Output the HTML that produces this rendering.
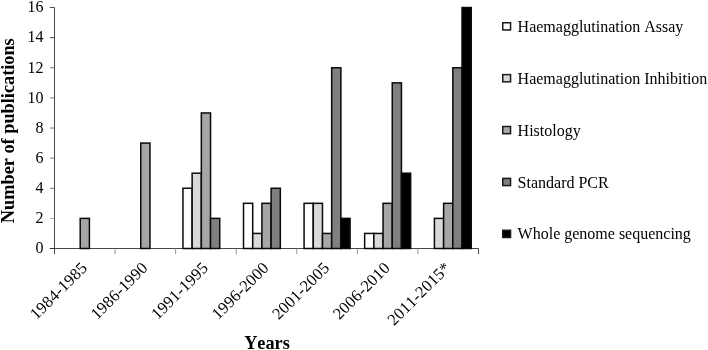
<!DOCTYPE html><html><head><meta charset="utf-8"><title>Chart</title><style>html,body{margin:0;padding:0;background:#fff}svg{display:block}text{font-kerning:none;font-family:"Liberation Serif","Times New Roman",serif;fill:#000}</style></head><body>
<svg width="708" height="350" viewBox="0 0 708 350">
<rect width="708" height="350" fill="#fff"/>
<g stroke="#333" stroke-width="0.9" fill="none">
<line x1="54.5" y1="7.54" x2="54.5" y2="248.50"/>
<line x1="49.9" y1="248.5" x2="478.49" y2="248.5"/>
<line x1="49.9" y1="248.50" x2="54.5" y2="248.50"/>
<line x1="49.9" y1="218.38" x2="54.5" y2="218.38" stroke="#9a9a9a"/>
<line x1="49.9" y1="188.26" x2="54.5" y2="188.26" stroke="#6e6e6e"/>
<line x1="49.9" y1="158.14" x2="54.5" y2="158.14" stroke="#6e6e6e"/>
<line x1="49.9" y1="128.02" x2="54.5" y2="128.02" stroke="#6e6e6e"/>
<line x1="49.9" y1="97.90" x2="54.5" y2="97.90" stroke="#6e6e6e"/>
<line x1="49.9" y1="67.78" x2="54.5" y2="67.78" stroke="#6e6e6e"/>
<line x1="49.9" y1="37.66" x2="54.5" y2="37.66"/>
<line x1="49.9" y1="7.54" x2="54.5" y2="7.54"/>
<line x1="54.50" y1="248.5" x2="54.50" y2="254.10"/>
<line x1="115.07" y1="248.5" x2="115.07" y2="254.10" stroke="#8a8a8a"/>
<line x1="175.64" y1="248.5" x2="175.64" y2="254.10" stroke="#8a8a8a"/>
<line x1="236.21" y1="248.5" x2="236.21" y2="254.10" stroke="#8a8a8a"/>
<line x1="296.78" y1="248.5" x2="296.78" y2="254.10" stroke="#8a8a8a"/>
<line x1="357.35" y1="248.5" x2="357.35" y2="254.10" stroke="#8a8a8a"/>
<line x1="417.92" y1="248.5" x2="417.92" y2="254.10" stroke="#8a8a8a"/>
<line x1="478.49" y1="248.5" x2="478.49" y2="254.10"/>
</g>
<g stroke="#0a0a0a" stroke-width="1.5">
<rect x="80.20" y="218.38" width="9.20" height="30.12" fill="#a6a6a6"/>
<rect x="140.77" y="143.08" width="9.20" height="105.42" fill="#a6a6a6"/>
<rect x="182.94" y="188.26" width="9.20" height="60.24" fill="#ffffff"/>
<rect x="192.14" y="173.20" width="9.20" height="75.30" fill="#d9d9d9"/>
<rect x="201.34" y="112.96" width="9.20" height="135.54" fill="#a6a6a6"/>
<rect x="210.54" y="218.38" width="9.20" height="30.12" fill="#7f7f7f"/>
<rect x="243.51" y="203.32" width="9.20" height="45.18" fill="#ffffff"/>
<rect x="252.71" y="233.44" width="9.20" height="15.06" fill="#d9d9d9"/>
<rect x="261.91" y="203.32" width="9.20" height="45.18" fill="#a6a6a6"/>
<rect x="271.11" y="188.26" width="9.20" height="60.24" fill="#7f7f7f"/>
<rect x="304.08" y="203.32" width="9.20" height="45.18" fill="#ffffff"/>
<rect x="313.28" y="203.32" width="9.20" height="45.18" fill="#d9d9d9"/>
<rect x="322.48" y="233.44" width="9.20" height="15.06" fill="#a6a6a6"/>
<rect x="331.68" y="67.78" width="9.20" height="180.72" fill="#7f7f7f"/>
<rect x="340.88" y="218.38" width="9.20" height="30.12" fill="#000000"/>
<rect x="364.65" y="233.44" width="9.20" height="15.06" fill="#ffffff"/>
<rect x="373.85" y="233.44" width="9.20" height="15.06" fill="#d9d9d9"/>
<rect x="383.05" y="203.32" width="9.20" height="45.18" fill="#a6a6a6"/>
<rect x="392.25" y="82.84" width="9.20" height="165.66" fill="#7f7f7f"/>
<rect x="401.45" y="173.20" width="9.20" height="75.30" fill="#000000"/>
<rect x="434.42" y="218.38" width="9.20" height="30.12" fill="#d9d9d9"/>
<rect x="443.62" y="203.32" width="9.20" height="45.18" fill="#a6a6a6"/>
<rect x="452.82" y="67.78" width="9.20" height="180.72" fill="#7f7f7f"/>
<rect x="462.02" y="7.54" width="9.20" height="240.96" fill="#000000"/>
</g>
<text x="43.5" y="253.25" font-size="16" text-anchor="end">0</text>
<text x="43.5" y="223.13" font-size="16" text-anchor="end">2</text>
<text x="43.5" y="193.01" font-size="16" text-anchor="end">4</text>
<text x="43.5" y="162.89" font-size="16" text-anchor="end">6</text>
<text x="43.5" y="132.77" font-size="16" text-anchor="end">8</text>
<text x="43.5" y="102.65" font-size="16" text-anchor="end">10</text>
<text x="43.5" y="72.53" font-size="16" text-anchor="end">12</text>
<text x="43.5" y="42.41" font-size="16" text-anchor="end">14</text>
<text x="43.5" y="12.29" font-size="16" text-anchor="end">16</text>
<text transform="translate(88.08,268.80) rotate(-45)" font-size="16.5" letter-spacing="0.15" text-anchor="end">1984-1985</text>
<text transform="translate(148.66,268.80) rotate(-45)" font-size="16.5" letter-spacing="0.15" text-anchor="end">1986-1990</text>
<text transform="translate(209.22,268.80) rotate(-45)" font-size="16.5" letter-spacing="0.15" text-anchor="end">1991-1995</text>
<text transform="translate(269.80,268.80) rotate(-45)" font-size="16.5" letter-spacing="0.15" text-anchor="end">1996-2000</text>
<text transform="translate(330.37,268.80) rotate(-45)" font-size="16.5" letter-spacing="0.15" text-anchor="end">2001-2005</text>
<text transform="translate(390.94,268.80) rotate(-45)" font-size="16.5" letter-spacing="0.15" text-anchor="end">2006-2010</text>
<text transform="translate(451.51,268.80) rotate(-45)" font-size="16.5" letter-spacing="0.15" text-anchor="end">2011-2015*</text>
<text transform="translate(13.9,130.7) rotate(-90)" font-size="18.3" font-weight="bold" text-anchor="middle">Number of publications</text>
<text x="267" y="349" font-size="18.3" font-weight="bold" text-anchor="middle">Years</text>
<rect x="502.75" y="22.75" width="7.8" height="7.2" fill="#ffffff" stroke="#1a1a1a" stroke-width="1.5"/>
<text x="517.6" y="31.90" font-size="16">Haemagglutination Assay</text>
<rect x="502.75" y="74.63" width="7.8" height="7.2" fill="#d9d9d9" stroke="#1a1a1a" stroke-width="1.5"/>
<text x="517.6" y="83.78" font-size="16">Haemagglutination Inhibition</text>
<rect x="502.75" y="126.51" width="7.8" height="7.2" fill="#a6a6a6" stroke="#1a1a1a" stroke-width="1.5"/>
<text x="517.6" y="135.66" font-size="16">Histology</text>
<rect x="502.75" y="178.39" width="7.8" height="7.2" fill="#7f7f7f" stroke="#1a1a1a" stroke-width="1.5"/>
<text x="517.6" y="187.54" font-size="16">Standard PCR</text>
<rect x="502.75" y="230.27" width="7.8" height="7.2" fill="#000000" stroke="#1a1a1a" stroke-width="1.5"/>
<text x="517.6" y="239.42" font-size="16">Whole genome sequencing</text>
</svg></body></html>
